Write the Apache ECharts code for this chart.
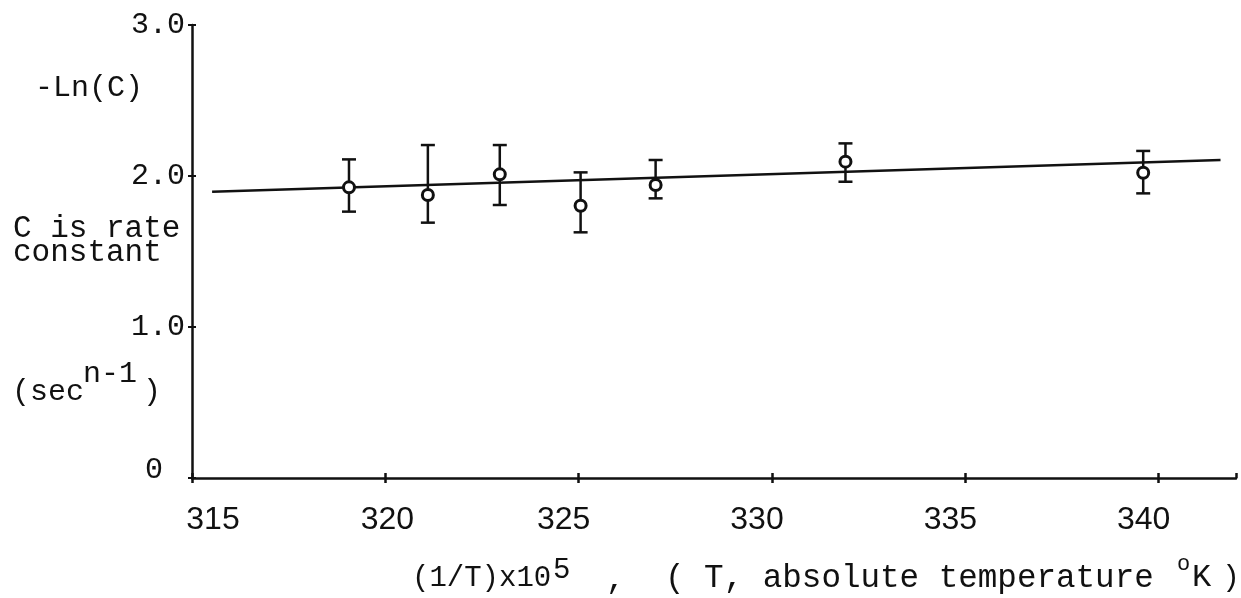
<!DOCTYPE html>
<html>
<head>
<meta charset="utf-8">
<title>-Ln(C) vs (1/T)x10^5</title>
<script src="https://cdn.jsdelivr.net/npm/echarts@6/dist/echarts.min.js"></script>
<style>
  html, body { margin: 0; padding: 0; background: #fff; }
  #chart { width: 1241px; height: 598px; }
</style>
</head>
<body>
<div id="chart"></div>
<script>
// Axis tick values
const xTicks = [315, 320, 325, 330, 335, 340];
const yTicks = [0, 1.0, 2.0, 3.0];

// Measured points: (1/T)x10^5 and -Ln(C), with error bar limits
const invTemp = [319.06, 321.1, 322.96, 325.05, 326.99, 331.9, 339.6];
const negLnC = [1.925, 1.874, 2.011, 1.803, 1.940, 2.095, 2.022];
const errHigh = [2.11, 2.205, 2.205, 2.024, 2.106, 2.216, 2.166];
const errLow = [1.764, 1.691, 1.808, 1.627, 1.852, 1.962, 1.885];

// Fitted straight line end points
const fitX = [315.52, 341.6];
const fitY = [1.896, 2.106];

const MONO = '"Liberation Mono", "DejaVu Sans Mono", monospace';
const SANS = '"Liberation Sans", Arial, sans-serif';
const INK = '#111';

const chart = echarts.init(document.getElementById('chart'), null, { renderer: 'canvas' });

const xMin = xTicks[0], xMax = 342, xStep = xTicks[1] - xTicks[0];
const yMin = yTicks[0], yMax = yTicks[yTicks.length - 1], yStep = yTicks[1] - yTicks[0];

function txt(text, x, y, size) {
  return {
    type: 'text', x: x, y: y, z: 10,
    style: { text: text, font: size + 'px ' + MONO, fill: INK, align: 'left', verticalAlign: 'middle' }
  };
}

// typed tick numbers sit a little off their ticks
function xLabel(v) {
  if (xTicks.indexOf(v) < 0) return '';
  if (v === xTicks[0]) return '{a|' + v + '}';
  if (v === xTicks[1]) return '{c|' + v + '}';
  return '{b|' + v + '}';
}

const option = {
  backgroundColor: '#fff',
  animation: false,
  grid: { left: 192, right: 5, top: 25, bottom: 120, containLabel: false },
  xAxis: [
    {
      type: 'value', min: xMin, max: xMax, interval: xStep,
      axisLine: { show: true, onZero: false, lineStyle: { color: INK, width: 2.5 } },
      axisTick: { show: true, length: 5, lineStyle: { color: INK, width: 2.5 } },
      splitLine: { show: false },
      axisLabel: {
        margin: 26,
        showMaxLabel: false,
        formatter: xLabel,
        rich: {
          a: { fontFamily: SANS, fontSize: 32, color: INK, padding: [0, 0, 0, 42] },
          b: { fontFamily: SANS, fontSize: 32, color: INK, padding: [0, 30, 0, 0] },
          c: { fontFamily: SANS, fontSize: 32, color: INK, padding: [0, 0, 0, 4] }
        }
      }
    },
    {
      type: 'value', min: xMin, max: xMax, interval: xStep, position: 'bottom',
      axisLine: { show: false },
      axisTick: { show: true, inside: true, length: 5, lineStyle: { color: INK, width: 2.5 } },
      axisLabel: { show: false },
      splitLine: { show: false }
    }
  ],
  yAxis: [
    {
      type: 'value', min: yMin, max: yMax, interval: yStep,
      axisLine: { show: true, onZero: false, lineStyle: { color: INK, width: 2.5 } },
      axisTick: { show: true, length: 4, lineStyle: { color: INK, width: 2 } },
      splitLine: { show: false },
      axisLabel: {
        margin: 7,
        fontFamily: MONO, fontSize: 30, color: INK,
        formatter: v => (v === 0 ? '{z|0}' : v.toFixed(1)),
        rich: { z: { fontFamily: MONO, fontSize: 30, color: INK, padding: [0, 22, 16, 0] } }
      }
    },
    {
      type: 'value', min: yMin, max: yMax, interval: yStep, position: 'left',
      axisLine: { show: false },
      axisTick: { show: true, inside: true, length: 4, lineStyle: { color: INK, width: 2 } },
      axisLabel: { show: false },
      splitLine: { show: false }
    }
  ],
  series: [
    {
      name: 'fit',
      type: 'line',
      data: fitX.map((x, i) => [x, fitY[i]]),
      symbol: 'none',
      lineStyle: { color: INK, width: 2.5 },
      z: 2
    },
    {
      name: 'error',
      type: 'custom',
      data: invTemp.map((x, i) => [x, errLow[i], errHigh[i]]),
      encode: { x: 0, y: [1, 2] },
      renderItem: function (params, api) {
        const x = api.value(0);
        const lo = api.coord([x, api.value(1)]);
        const hi = api.coord([x, api.value(2)]);
        const w = 7;
        const st = { stroke: INK, lineWidth: 2.5 };
        return {
          type: 'group',
          children: [
            { type: 'line', shape: { x1: lo[0], y1: lo[1], x2: hi[0], y2: hi[1] }, style: st },
            { type: 'line', shape: { x1: hi[0] - w, y1: hi[1], x2: hi[0] + w, y2: hi[1] }, style: st },
            { type: 'line', shape: { x1: lo[0] - w, y1: lo[1], x2: lo[0] + w, y2: lo[1] }, style: st }
          ]
        };
      },
      z: 3
    },
    {
      name: 'measured',
      type: 'scatter',
      data: invTemp.map((x, i) => [x, negLnC[i]]),
      symbol: 'circle',
      symbolSize: 11,
      itemStyle: { color: '#fff', borderColor: INK, borderWidth: 3, opacity: 1 },
      z: 4
    }
  ],
  graphic: [
    txt('-Ln(C)', 35, 88, 30),
    txt('C is rate', 13, 229, 31),
    txt('constant', 13, 253, 31),
    txt('(sec', 12, 392, 30),
    txt('n-1', 83, 374, 30),
    txt(')', 143, 392, 30),
    txt('(1/T)x10', 412, 578, 29),
    txt('5', 553, 570, 29),
    txt(',', 606, 580, 32),
    txt('( T, absolute temperature', 665, 578, 32.6),
    txt('o', 1177, 564, 22),
    txt('K', 1192, 578, 32),
    txt(')', 1222, 578, 30)
  ]
};

chart.setOption(option);
</script>
</body>
</html>
